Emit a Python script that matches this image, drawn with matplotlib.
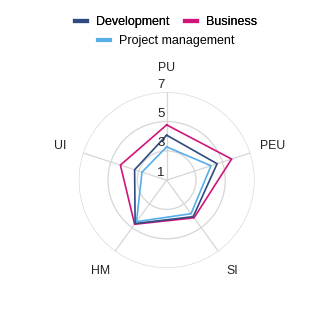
import numpy as np
import matplotlib
matplotlib.use("Agg")
import matplotlib.pyplot as plt
from matplotlib.lines import Line2D

plt.rcParams['font.family'] = ['Liberation Sans', 'DejaVu Sans']

categories = ["PU", "PEU", "SI", "HM", "UI"]
development = [4.07, 4.62, 4.08, 4.66, 3.30]
business = [4.77, 5.66, 4.18, 4.72, 4.32]
project_mgmt = [3.27, 4.18, 3.83, 4.50, 2.77]
r_ticks = [1, 3, 5, 7]

series = [("Development", development, "#2f4a7f"),
          ("Business", business, "#d0157a"),
          ("Project management", project_mgmt, "#56aee9")]

fig = plt.figure(figsize=(3.32, 3.18), dpi=100)
ax = fig.add_axes([0.237, 0.157, 0.530, 0.553], projection='polar')
ax.set_theta_offset(np.pi / 2)
ax.set_theta_direction(-1)

n = len(categories)
angles = np.arange(n) * 2 * np.pi / n
closed = np.concatenate([angles, angles[:1]])

for name, vals, col in series[::-1]:
    v = list(vals) + [vals[0]]
    ax.plot(closed, v, color=col, lw=1.2, label=name)

ax.set_ylim(1, 7)
ax.set_yticks(r_ticks)
ax.set_yticklabels([])
ax.set_xticks(angles)
ax.set_xticklabels([])
ax.grid(True, color="#d6d6d6", lw=0.9)
ax.spines['polar'].set_visible(False)
ax.set_facecolor('none')

# radial tick labels
for t in r_ticks:
    ax.annotate(str(t), xy=(0, t), xytext=(-1.5, 1), textcoords='offset points',
                ha='right', va='bottom', fontsize=9.5, color='#222222')

# category labels
lab_r = 1 + 112 / 88 * 6
for a, c in zip(angles, categories):
    ax.text(a, lab_r, c, ha='center', va='center', fontsize=8.8, color='#222222')

handles = [Line2D([0], [0], color=col, lw=3) for _, _, col in series]
leg1 = fig.legend(handles[:2], [s[0] for s in series[:2]], loc='center',
                  bbox_to_anchor=(0.5, 1 - 22 / 318), ncol=2, frameon=False,
                  fontsize=9, handlelength=0.95, handletextpad=0.7,
                  columnspacing=1.3, borderpad=0, borderaxespad=0)
fig.add_artist(leg1)
fig.legend(handles[2:], [series[2][0]], loc='center',
           bbox_to_anchor=(0.5, 1 - 41 / 318), ncol=1, frameon=False,
           fontsize=9, handlelength=0.95, handletextpad=0.7,
           borderpad=0, borderaxespad=0)

fig.savefig("out.png", dpi=100)
